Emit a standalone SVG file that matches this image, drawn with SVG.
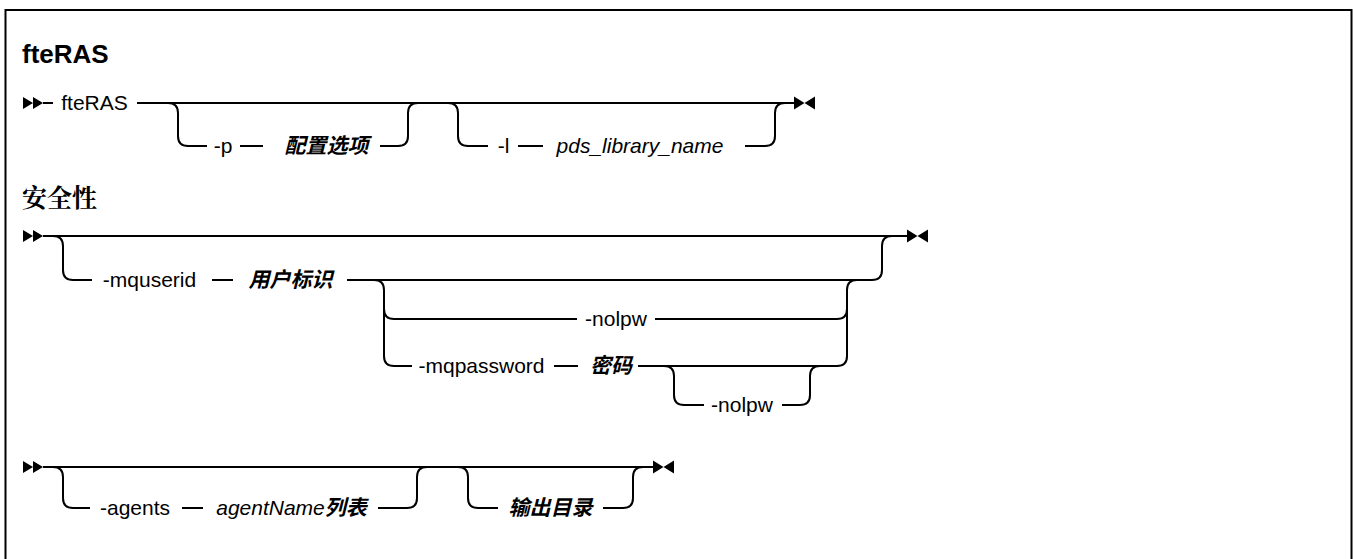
<svg xmlns="http://www.w3.org/2000/svg" xmlns:xlink="http://www.w3.org/1999/xlink" width="1353" height="559" viewBox="0 0 1353 559">
<style>
  .ln { fill: none; stroke: #000; stroke-width: 2; }
  .frame { fill: #fff; stroke: #000; stroke-width: 2; }
  .kw { font-family: "Liberation Sans", Arial, sans-serif; font-size: 21px; fill: #000; text-anchor: middle; }
  .var { font-family: "Liberation Sans", "Noto Sans CJK SC", sans-serif; font-size: 21px; font-style: italic; fill: #000; text-anchor: middle; }
  .cjk { font-family: "Noto Sans CJK SC", sans-serif; font-weight: bold; }
  .title { font-family: "Liberation Sans", Arial, sans-serif; font-size: 26px; font-weight: bold; fill: #000; }
  .sec { font-family: "Noto Serif CJK SC", "Noto Sans CJK SC", serif; font-size: 25px; font-weight: bold; fill: #000; }
  .mk { fill: #000; stroke: none; }
</style>
<defs>
  <path id="startMk" d="M0,-6 L10,0 L0,6 Z M10,-6 L20,0 L10,6 Z"/>
  <path id="endMk" d="M0,-6.5 L10.5,0 L0,6.5 Z M21,-6.5 L10.5,0 L21,6.5 Z"/>
</defs>

<rect class="frame" x="5.5" y="10" width="1346" height="580"/>

<g id="titles">
  <text id="title-fteRAS" class="title" x="22" y="63">fteRAS</text>
  <text id="title-security" class="sec" x="22" y="207">安全性</text>
</g>

<g id="connectors">
  <!-- Row 1 -->
  <use href="#startMk" class="mk" x="23" y="103"/>
  <path class="ln" d="M43,103 H53"/>
  <path class="ln" d="M137,103 H794"/>
  <path class="ln" d="M168,103 Q178,103 178,113 V136 Q178,146 188,146 H207"/>
  <path class="ln" d="M240,146 H263"/>
  <path class="ln" d="M380,146 H398 Q408,146 408,136 V113 Q408,103 418,103"/>
  <path class="ln" d="M448,103 Q458,103 458,113 V136 Q458,146 468,146 H488"/>
  <path class="ln" d="M518,146 H543"/>
  <path class="ln" d="M745,146 H765 Q775,146 775,136 V113 Q775,103 785,103"/>
  <use href="#endMk" class="mk" x="794" y="103"/>

  <!-- Row 2 -->
  <use href="#startMk" class="mk" x="23" y="236"/>
  <path class="ln" d="M43,236 H907"/>
  <path class="ln" d="M53,236 Q63,236 63,246 V270 Q63,280 73,280 H92"/>
  <path class="ln" d="M212,280 H233"/>
  <path class="ln" d="M347,280 H872 Q882,280 882,270 V246 Q882,236 892,236"/>
  <path class="ln" d="M374,280 Q384,280 384,290 V356 Q384,366 394,366 H412"/>
  <path class="ln" d="M384,309 Q384,319 394,319 H577"/>
  <path class="ln" d="M655,319 H837 Q847,319 847,309"/>
  <path class="ln" d="M554,366 H578"/>
  <path class="ln" d="M638,366 H837 Q847,366 847,356 V290 Q847,280 857,280"/>
  <path class="ln" d="M664,366 Q674,366 674,376 V395 Q674,405 684,405 H704"/>
  <path class="ln" d="M782,405 H800 Q810,405 810,395 V376 Q810,366 820,366"/>
  <use href="#endMk" class="mk" x="907" y="236"/>

  <!-- Row 3 -->
  <use href="#startMk" class="mk" x="23" y="467"/>
  <path class="ln" d="M43,467 H653"/>
  <path class="ln" d="M53,467 Q63,467 63,477 V498 Q63,508 73,508 H90"/>
  <path class="ln" d="M182,508 H203"/>
  <path class="ln" d="M378,508 H407 Q417,508 417,498 V477 Q417,467 427,467"/>
  <path class="ln" d="M458,467 Q468,467 468,477 V498 Q468,508 478,508 H498"/>
  <path class="ln" d="M603,508 H623 Q633,508 633,498 V477 Q633,467 643,467"/>
  <use href="#endMk" class="mk" x="653" y="467"/>
</g>

<g id="node-fteRAS"><text class="kw" x="94.5" y="110">fteRAS</text></g>
<g id="node-p"><text class="kw" x="223" y="153">-p</text></g>
<g id="node-config"><text class="var cjk" x="326.5" y="153">配置选项</text></g>
<g id="node-l"><text class="kw" x="503.5" y="153">-l</text></g>
<g id="node-pds"><text class="var" x="640" y="153">pds_library_name</text></g>

<g id="node-mquserid"><text class="kw" x="149.5" y="287">-mquserid</text></g>
<g id="node-userid"><text class="var cjk" x="290.5" y="287">用户标识</text></g>
<g id="node-nolpw1"><text class="kw" x="616" y="326">-nolpw</text></g>
<g id="node-mqpassword"><text class="kw" x="481.5" y="373">-mqpassword</text></g>
<g id="node-password"><text class="var cjk" x="611" y="373">密码</text></g>
<g id="node-nolpw2"><text class="kw" x="742" y="412">-nolpw</text></g>

<g id="node-agents"><text class="kw" x="135" y="515">-agents</text></g>
<g id="node-agentlist"><text class="var" x="291.5" y="515">agentName<tspan class="cjk">列表</tspan></text></g>
<g id="node-outdir"><text class="var cjk" x="550.5" y="515">输出目录</text></g>
</svg>
